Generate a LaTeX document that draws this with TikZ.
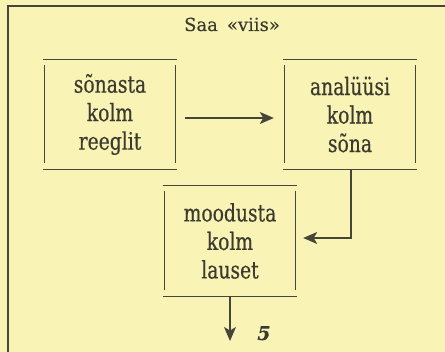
\documentclass[tikz,border=0pt]{standalone}
\usepackage{fontspec}
\usetikzlibrary{arrows.meta,calc}
\newfontfamily\boxfontfam[FakeStretch=0.78,FakeBold=0.4]{DejaVu Serif}
\newfontfamily\titlefontfam[FakeBold=0.3]{DejaVu Serif}
\definecolor{paper}{HTML}{F9F4B6}
\definecolor{ink}{HTML}{45453A}
\definecolor{txt}{HTML}{3A3A2E}
\newcommand\slablines[1]{%
  \draw[boxline] ([xshift=-2pt]#1.north west) -- ([xshift=2pt]#1.north east);
  \draw[boxline] ([xshift=-2pt]#1.south west) -- ([xshift=2pt]#1.south east);
  \draw[boxline] ([yshift=-5pt]#1.north west) -- ([yshift=6pt]#1.south west);
  \draw[boxline] ([yshift=-5pt]#1.north east) -- ([yshift=6pt]#1.south east);
}
\begin{document}
\begin{tikzpicture}[x=1pt,y=-1pt,
  boxline/.style={draw=ink,line width=1.2pt},
  frameline/.style={draw=ink,line width=1.5pt},
  slab/.style={minimum width=130pt,minimum height=109pt,inner sep=0pt,align=center,
    text=txt,font=\boxfontfam\fontsize{24pt}{28.5pt}\selectfont},
  conn/.style={draw=ink,line width=1.1pt,-{Stealth[length=14pt,width=12pt,inset=3.5pt]}},
  lbl/.style={text=txt,inner sep=0pt}]
\fill[paper] (0,0) rectangle (445,352);
\useasboundingbox (0,0) rectangle (445,352);
\coordinate (ftl) at (8,6);
\coordinate (ftr) at (445,6);
\coordinate (fbl) at (8,352);
\draw[frameline] (ftr) -- (ftl) -- (fbl);
\node[lbl,anchor=base,font=\titlefontfam\fontsize{18pt}{20pt}\selectfont] (title) at (232,31) {Saa\hspace{9pt}«viis»};
\node[slab] (b1) at (110,114.5) {sõnasta\\kolm\\reeglit};
\node[slab] (b2) at (350,114.5) {analüüsi\\kolm\\sõna};
\node[slab,minimum height=110pt] (b3) at (230,241) {moodusta\\kolm\\lauset};
\slablines{b1}
\slablines{b2}
\slablines{b3}
\draw[conn,shorten <=10pt,shorten >=11pt] ([yshift=-3.5pt]b1.east) -- ([yshift=-3.5pt]b2.west);
\draw[conn,shorten >=8pt] ([xshift=1pt]b2.south) |- ([yshift=3pt]b3.east);
\coordinate (out) at (230,341);
\draw[conn] (b3.south) -- (out);
\node[lbl,anchor=base,font=\titlefontfam\bfseries\itshape\fontsize{19pt}{21pt}\selectfont] (five) at (264,340) {5};
\end{tikzpicture}
\end{document}
